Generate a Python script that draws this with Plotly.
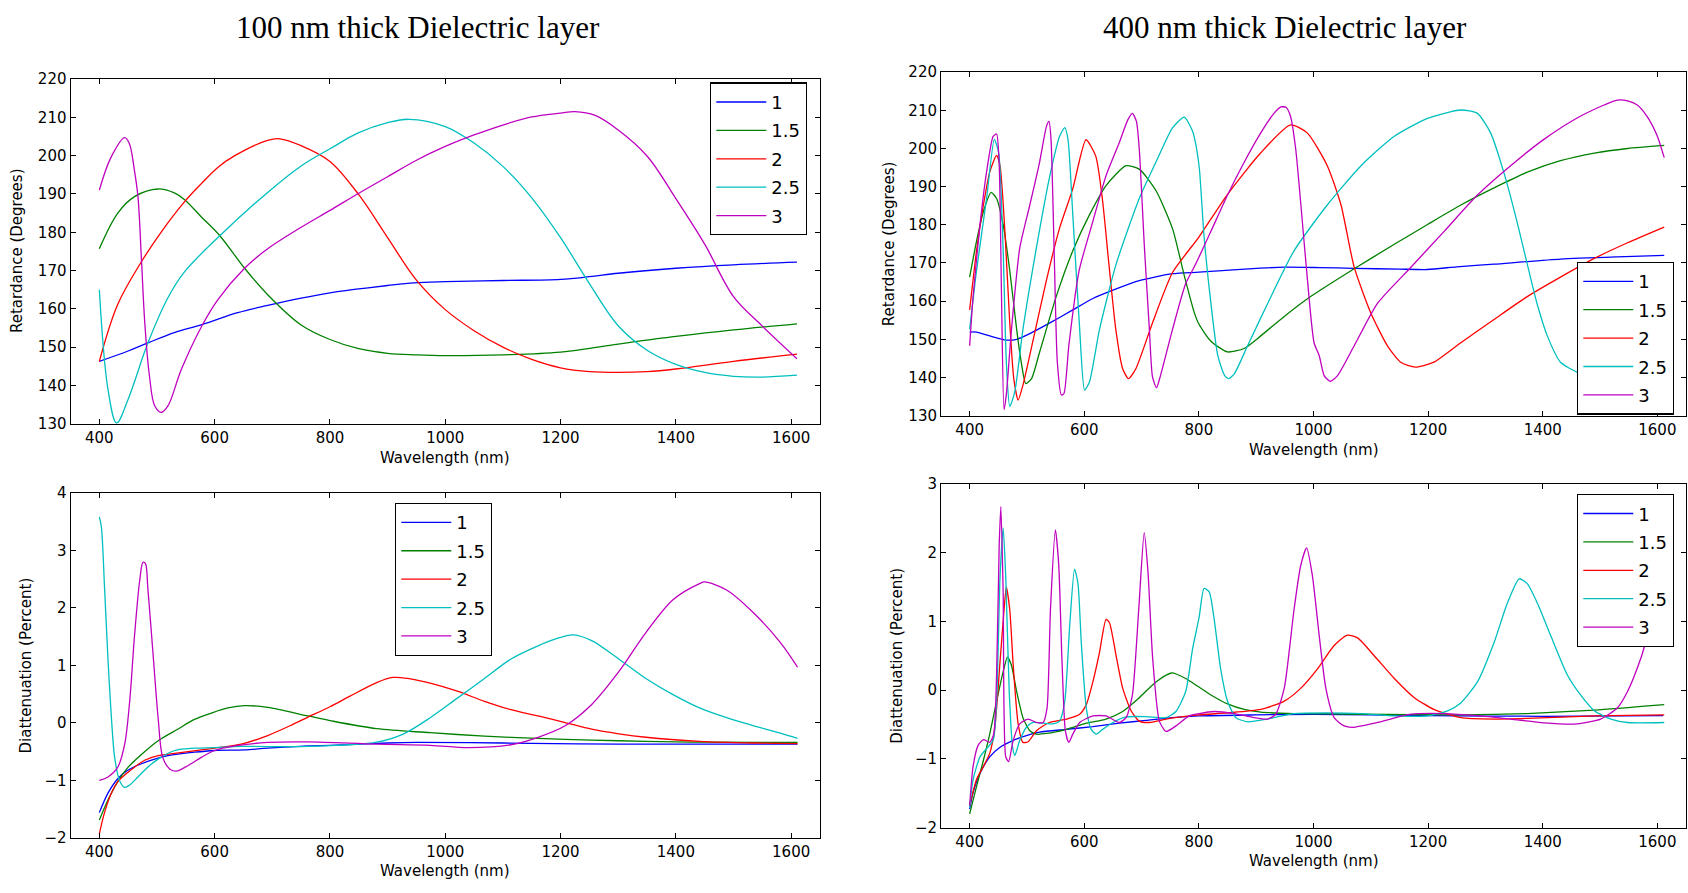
import plotly.graph_objects as go

# ---------------- data ----------------
SERIES_NAMES = ["1", "1.5", "2", "2.5", "3"]
X_TICKS = [400, 600, 800, 1000, 1200, 1400, 1600]
RET_TICKS = [130, 140, 150, 160, 170, 180, 190, 200, 210, 220]
DIA_TICKS_100 = [-2, -1, 0, 1, 2, 3, 4]
DIA_TICKS_400 = [-2, -1, 0, 1, 2, 3]

# --- 100 nm, retardance ---
TL_1_X = [400, 450, 484, 530, 578, 640, 692, 750, 800, 850, 900, 946, 1000, 1100, 1200, 1250, 1300, 1400, 1500, 1610]
TL_1_Y = [146.3, 149.0, 151.1, 153.8, 155.9, 159.0, 160.9, 162.8, 164.2, 165.2, 166.1, 166.8, 167.1, 167.4, 167.7, 168.4, 169.3, 170.6, 171.5, 172.2]
TL_15_X = [400, 432, 461, 502, 531, 548, 577, 609, 652, 692, 750, 800, 850, 900, 950, 1000, 1100, 1200, 1300, 1400, 1500, 1610]
TL_15_Y = [175.7, 185.0, 189.3, 191.3, 190.2, 188.5, 184.0, 179.1, 170.6, 163.7, 155.8, 152.0, 149.6, 148.4, 148.0, 147.8, 148.0, 148.7, 150.8, 152.8, 154.5, 156.1]
TL_2_X = [400, 432, 473, 507, 548, 577, 606, 635, 692, 713, 750, 800, 850, 900, 950, 1000, 1050, 1100, 1150, 1200, 1250, 1300, 1350, 1400, 1500, 1610]
TL_2_Y = [146.3, 161.2, 172.3, 180.0, 188.0, 192.7, 197.0, 200.0, 204.0, 204.4, 202.6, 198.5, 189.8, 178.6, 167.5, 159.8, 154.3, 150.0, 146.8, 144.6, 143.6, 143.4, 143.6, 144.3, 146.3, 148.2]
TL_25_X = [400, 415, 430, 450, 484, 519, 548, 609, 692, 750, 800, 850, 900, 937, 1000, 1050, 1100, 1150, 1200, 1250, 1300, 1350, 1400, 1450, 1500, 1550, 1610]
TL_25_Y = [165.0, 139.0, 130.2, 136.4, 151.0, 162.9, 169.7, 179.1, 190.4, 197.3, 201.8, 206.0, 208.6, 209.5, 207.6, 203.3, 197.2, 189.0, 178.6, 166.6, 155.6, 149.2, 145.5, 143.4, 142.4, 142.2, 142.7]
TL_3_X = [400, 420, 444, 452, 461, 467, 473, 479, 487, 496, 507, 519, 542, 578, 606, 652, 692, 750, 800, 850, 900, 950, 1000, 1050, 1100, 1150, 1200, 1225, 1260, 1300, 1350, 1400, 1450, 1500, 1550, 1610]
TL_3_Y = [191.0, 199.5, 204.7, 203.2, 196.0, 189.3, 173.1, 156.0, 142.4, 134.7, 133.0, 134.7, 144.1, 155.6, 162.5, 170.6, 175.7, 181.3, 185.7, 190.2, 194.5, 198.8, 202.4, 205.4, 208.0, 210.1, 211.1, 211.5, 210.5, 206.7, 199.9, 188.8, 176.9, 163.2, 155.5, 147.0]

# --- 400 nm, retardance ---
TR_1_X = [400, 412, 435, 464, 482, 505, 540, 580, 615, 650, 696, 754, 800, 880, 949, 1010, 1071, 1150, 1199, 1250, 1315, 1431, 1530, 1612]
TR_1_Y = [151.9, 151.9, 150.9, 149.8, 150.0, 151.5, 154.3, 157.7, 160.7, 162.9, 165.4, 167.2, 167.6, 168.4, 168.9, 168.8, 168.6, 168.4, 168.3, 169.0, 169.7, 171.0, 171.6, 172.0]
TR_15_X = [400, 412, 424, 437.5, 447, 458.5, 470, 482, 490, 498, 508, 522, 551, 580, 609, 638, 673, 696, 725, 754, 774, 792, 800, 821, 850, 879, 908, 949, 995, 1071, 1141, 1199, 1257, 1315, 1373, 1431, 1490, 1548, 1612]
TR_15_Y = [166.3, 175.7, 183.5, 188.5, 186.9, 180.0, 168.0, 152.6, 144.0, 138.4, 139.7, 146.6, 161.2, 173.2, 182.6, 190.3, 195.5, 194.6, 189.0, 179.0, 167.0, 157.0, 154.0, 149.5, 146.7, 147.6, 150.9, 156.0, 161.2, 168.5, 174.9, 180.1, 185.2, 189.7, 193.8, 196.8, 198.8, 200.0, 200.8]
TR_2_X = [400, 412, 424, 435, 447, 453, 461.5, 470, 477, 484.6, 493, 511, 534, 557, 580, 603, 620, 631.5, 643, 655, 667, 677, 690, 719, 754, 800, 850, 908, 960, 989, 1024, 1048, 1071, 1100, 1129, 1152, 1178, 1210, 1257, 1315, 1373, 1431, 1490, 1548, 1612]
TR_2_Y = [157.7, 173.2, 185.2, 193.8, 198.2, 195.5, 178.3, 154.3, 139.7, 134.1, 138.0, 150.0, 165.5, 179.2, 189.5, 202.3, 198.0, 186.9, 169.7, 152.6, 142.3, 139.7, 142.3, 154.3, 167.5, 176.8, 188.0, 198.9, 206.2, 204.1, 195.5, 185.2, 168.9, 156.9, 148.3, 144.0, 142.7, 144.0, 149.1, 155.2, 161.2, 166.3, 171.2, 175.3, 179.4]
TR_25_X = [400, 412, 429.5, 443, 450.6, 458.5, 464, 470, 478.8, 493, 516.5, 540, 557, 566, 571.6, 580, 592, 600.6, 609, 626.6, 655.6, 696, 725, 754, 774.5, 789, 796, 801, 809, 821, 833, 845, 852, 862, 885, 920, 966, 1024, 1083, 1141, 1199, 1257, 1286, 1309, 1332, 1355, 1373, 1390, 1408, 1431, 1460, 1490, 1550, 1610]
TR_25_Y = [152.6, 168.0, 186.9, 202.4, 198.9, 173.2, 144.0, 132.4, 136.3, 152.6, 174.0, 192.9, 203.2, 205.5, 202.4, 182.6, 152.6, 136.7, 138.8, 152.6, 169.7, 186.9, 196.4, 205.4, 208.2, 204.5, 200.0, 194.5, 177.0, 159.4, 145.7, 140.5, 139.7, 141.0, 148.3, 159.4, 173.2, 185.2, 195.5, 203.2, 207.9, 210.1, 209.2, 204.1, 193.8, 180.9, 169.7, 159.4, 150.9, 144.0, 141.4, 140.5, 143.5, 149.0]
TR_3_X = [400, 406, 418, 429.5, 441, 447, 451.6, 455.6, 460, 464, 473, 487.5, 505, 522, 534, 538.5, 542, 548, 553, 560, 564.6, 573, 591, 615, 638, 661, 676, 684, 691, 696, 705, 713.6, 719, 726, 733, 754, 777, 792, 800, 821, 850, 879, 908, 931, 943, 952, 960, 969, 978, 989.5, 1001, 1010, 1018.6, 1029, 1042, 1071, 1111.6, 1170, 1228, 1286, 1344, 1402, 1460, 1507, 1530, 1548, 1565, 1582, 1600, 1612]
TR_3_Y = [148.3, 161.2, 180.0, 193.8, 203.2, 203.8, 195.5, 161.2, 131.6, 135.5, 152.6, 174.0, 185.2, 196.4, 205.8, 207.1, 202.4, 169.7, 144.0, 135.4, 135.8, 148.3, 168.0, 180.9, 192.9, 201.5, 207.5, 209.2, 207.1, 199.8, 174.0, 152.6, 140.2, 137.3, 140.5, 152.6, 164.6, 169.0, 171.5, 178.3, 187.8, 196.4, 204.1, 209.2, 210.9, 210.8, 208.4, 199.8, 185.2, 165.5, 149.1, 145.7, 140.5, 139.0, 140.5, 148.3, 159.4, 168.9, 178.3, 187.8, 195.5, 202.4, 208.0, 211.4, 212.7, 212.5, 211.4, 208.4, 203.2, 197.6]

# --- 100 nm, diattenuation ---
BL_1_X = [400, 415, 432, 450, 473, 496, 519, 565, 600, 652, 692, 762, 800, 900, 950, 1100, 1300, 1611]
BL_1_Y = [-1.56, -1.22, -0.97, -0.82, -0.71, -0.63, -0.57, -0.51, -0.48, -0.47, -0.44, -0.40, -0.39, -0.35, -0.34, -0.35, -0.37, -0.37]
BL_15_X = [400, 415, 432, 450, 473, 502, 536, 565, 594, 623, 652, 692, 762, 800, 881, 974, 1068, 1161, 1254, 1348, 1441, 1611]
BL_15_Y = [-1.69, -1.34, -1.02, -0.77, -0.55, -0.31, -0.11, 0.06, 0.17, 0.26, 0.30, 0.27, 0.12, 0.04, -0.10, -0.17, -0.23, -0.27, -0.30, -0.32, -0.335, -0.34]
BL_2_X = [400, 409, 421, 432, 447, 461, 478.6, 502, 530.6, 577, 606, 646, 692, 735, 762, 800, 834, 881, 909, 937, 974, 1021, 1068, 1114, 1161, 1208, 1254, 1301, 1348, 1441, 1535, 1611]
BL_2_Y = [-1.93, -1.56, -1.22, -1.02, -0.88, -0.77, -0.65, -0.57, -0.53, -0.47, -0.43, -0.37, -0.22, -0.03, 0.10, 0.28, 0.46, 0.70, 0.79, 0.77, 0.69, 0.55, 0.375, 0.23, 0.12, 0.006, -0.11, -0.19, -0.25, -0.32, -0.35, -0.36]
BL_25_X = [400, 403.5, 409, 415, 421, 426.6, 435, 444, 452.6, 467, 484, 502, 530.6, 565, 600, 646, 762, 881, 928, 974, 1021, 1068, 1114, 1161, 1198, 1222, 1254, 1301, 1348, 1395, 1441, 1488, 1535, 1581, 1611]
BL_25_Y = [3.58, 3.41, 2.36, 1.11, 0.085, -0.60, -1.00, -1.12, -1.08, -0.94, -0.77, -0.63, -0.48, -0.44, -0.43, -0.41, -0.41, -0.335, -0.19, 0.09, 0.43, 0.77, 1.11, 1.34, 1.48, 1.53, 1.43, 1.11, 0.77, 0.49, 0.26, 0.09, -0.05, -0.18, -0.27]
BL_3_X = [400, 415, 432, 444, 452.6, 461, 470, 475.7, 480, 484, 493, 502, 510, 522, 533.5, 554, 577, 600, 635, 692, 762, 881, 974, 1040, 1114, 1161, 1208, 1254, 1301, 1348, 1395, 1441, 1450, 1488, 1535, 1581, 1611]
BL_3_Y = [-1.00, -0.94, -0.77, -0.37, 0.37, 1.51, 2.47, 2.79, 2.77, 2.36, 1.22, 0.085, -0.60, -0.80, -0.84, -0.74, -0.60, -0.48, -0.40, -0.34, -0.33, -0.37, -0.39, -0.43, -0.38, -0.25, -0.05, 0.32, 0.89, 1.57, 2.14, 2.42, 2.45, 2.31, 1.91, 1.40, 0.97]

# --- 400 nm, diattenuation ---
BR_1_X = [400, 406, 418, 435, 453, 476, 499, 522, 569, 615, 661, 708, 754, 800, 900, 1000, 1100, 1200, 1400, 1610]
BR_1_Y = [-1.73, -1.49, -1.21, -0.97, -0.83, -0.73, -0.66, -0.61, -0.57, -0.53, -0.48, -0.44, -0.40, -0.375, -0.36, -0.35, -0.36, -0.37, -0.38, -0.37]
BR_15_X = [400, 412, 424, 435, 447, 458.5, 466, 473, 482, 493, 505, 516.5, 534, 569, 603.5, 638, 667, 696, 725, 752.5, 777, 792, 821, 850, 879, 908, 966, 1083, 1257, 1373, 1490, 1612]
BR_15_Y = [-1.80, -1.40, -1.02, -0.64, -0.16, 0.27, 0.48, 0.36, -0.02, -0.40, -0.59, -0.64, -0.63, -0.57, -0.48, -0.42, -0.31, -0.11, 0.12, 0.25, 0.17, 0.09, -0.07, -0.20, -0.28, -0.32, -0.34, -0.35, -0.36, -0.34, -0.29, -0.21]
BR_2_X = [400, 412, 424, 435, 444, 453, 460, 464, 470, 476, 484.6, 493, 502, 516.5, 539, 569, 592, 603.5, 615, 626.6, 638, 644, 655.6, 667, 681.7, 696, 713.6, 742.6, 800, 850, 908, 949, 978, 1007, 1036, 1059, 1077, 1106, 1141, 1176, 1210, 1257, 1315, 1373, 1490, 1612]
BR_2_Y = [-1.68, -1.30, -1.11, -0.92, -0.54, 0.41, 1.17, 1.50, 1.17, 0.36, -0.49, -0.76, -0.75, -0.59, -0.47, -0.42, -0.35, -0.21, 0.12, 0.55, 1.03, 0.98, 0.50, 0.03, -0.30, -0.45, -0.47, -0.42, -0.36, -0.33, -0.28, -0.16, 0.03, 0.31, 0.65, 0.80, 0.76, 0.50, 0.17, -0.11, -0.28, -0.40, -0.42, -0.41, -0.375, -0.36]
BR_25_X = [400, 406, 418, 429.5, 441, 447, 453, 458.5, 463, 469, 475, 478.8, 487.5, 499, 510.7, 528, 545.5, 557, 566, 574.5, 583, 589, 594.8, 603.5, 612, 621, 632, 650, 673, 708, 742.6, 760, 777, 789, 800.6, 809, 818, 826.7, 838, 850, 864.5, 885, 920, 966, 1024, 1083, 1141, 1199, 1234, 1257, 1286, 1315, 1338, 1359, 1373, 1391, 1414, 1443, 1466, 1490, 1519, 1548, 1612]
BR_25_Y = [-1.71, -1.30, -0.97, -0.85, -0.73, -0.16, 1.64, 2.36, 1.64, -0.02, -0.83, -0.95, -0.73, -0.54, -0.47, -0.48, -0.49, -0.45, -0.16, 0.93, 1.76, 1.55, 0.69, -0.26, -0.57, -0.64, -0.57, -0.47, -0.39, -0.385, -0.40, -0.31, -0.02, 0.60, 1.07, 1.48, 1.43, 1.03, 0.31, -0.16, -0.40, -0.46, -0.42, -0.34, -0.33, -0.34, -0.375, -0.375, -0.30, -0.185, 0.12, 0.69, 1.26, 1.62, 1.55, 1.26, 0.79, 0.22, -0.07, -0.30, -0.42, -0.47, -0.47]
BR_3_X = [400, 406, 415, 424, 435, 442, 447, 451.6, 454.5, 458.5, 463, 468, 476, 487.5, 502, 516.5, 528, 535, 541, 549.6, 555.4, 561, 567, 573, 580, 592, 615, 638, 661, 673, 684, 695, 704.6, 711, 719.4, 731, 742.6, 760, 783, 800.6, 826.7, 861.6, 896.5, 920, 934, 949, 966, 977.6, 988, 998, 1010, 1021.5, 1036, 1053.5, 1068, 1111.6, 1170, 1228, 1286, 1344, 1402, 1460, 1501, 1530, 1548, 1571, 1583, 1610]
BR_3_Y = [-1.68, -1.11, -0.80, -0.72, -0.76, -0.64, 0.22, 2.12, 2.67, 1.41, -0.97, -1.04, -0.73, -0.49, -0.42, -0.47, -0.47, -0.26, 1.17, 2.33, 1.83, 0.46, -0.59, -0.76, -0.64, -0.47, -0.375, -0.375, -0.47, -0.40, -0.07, 1.17, 2.29, 1.74, 0.46, -0.45, -0.60, -0.52, -0.375, -0.34, -0.31, -0.34, -0.40, -0.42, -0.35, 0.03, 1.17, 1.81, 2.07, 1.67, 0.79, 0.03, -0.40, -0.52, -0.54, -0.47, -0.35, -0.34, -0.37, -0.42, -0.475, -0.49, -0.42, -0.26, -0.02, 0.46, 0.79, 1.50]

# ---------------- styling / layout ----------------
W, H = 1688, 893
COLORS = ["#0000ff", "#008000", "#ff0000", "#00bfbf", "#bf00bf"]
SANS = "DejaVu Sans"
SERIF = "Liberation Serif"


def fx(p):
    return p / W


def fy(p):
    return 1 - p / H


panels = [
    dict(xa="x", ya="y", leg="legend", smooth=1.0,
         data=[(TL_1_X, TL_1_Y), (TL_15_X, TL_15_Y), (TL_2_X, TL_2_Y), (TL_25_X, TL_25_Y), (TL_3_X, TL_3_Y)]),
    dict(xa="x2", ya="y2", leg="legend2", smooth=0.6,
         data=[(TR_1_X, TR_1_Y), (TR_15_X, TR_15_Y), (TR_2_X, TR_2_Y), (TR_25_X, TR_25_Y), (TR_3_X, TR_3_Y)]),
    dict(xa="x3", ya="y3", leg="legend3", smooth=0.9,
         data=[(BL_1_X, BL_1_Y), (BL_15_X, BL_15_Y), (BL_2_X, BL_2_Y), (BL_25_X, BL_25_Y), (BL_3_X, BL_3_Y)]),
    dict(xa="x4", ya="y4", leg="legend4", smooth=0.6,
         data=[(BR_1_X, BR_1_Y), (BR_15_X, BR_15_Y), (BR_2_X, BR_2_Y), (BR_25_X, BR_25_Y), (BR_3_X, BR_3_Y)]),
]

fig = go.Figure()
for p in panels:
    for i, (xs, ys) in enumerate(p["data"]):
        fig.add_trace(go.Scatter(
            x=xs, y=ys, mode="lines", name=SERIES_NAMES[i],
            line=dict(color=COLORS[i], width=1.3, shape="spline", smoothing=p["smooth"]),
            xaxis=p["xa"], yaxis=p["ya"], legend=p["leg"],
            legendgroup=p["leg"] + "_" + str(i),
        ))


def xaxis(dom, anchor):
    return dict(domain=dom, anchor=anchor, range=[350, 1650], tickvals=X_TICKS,
                ticks="inside", ticklen=5, tickcolor="black", showline=True,
                linecolor="black", linewidth=1, mirror="ticks", showgrid=False,
                zeroline=False, tickfont=dict(family=SANS, size=15, color="black"))


def yaxis(dom, anchor, rng, tv):
    return dict(domain=dom, anchor=anchor, range=rng, tickvals=tv,
                ticks="inside", ticklen=5, tickcolor="black", showline=True,
                linecolor="black", linewidth=1, mirror="ticks", showgrid=False,
                zeroline=False, tickfont=dict(family=SANS, size=15, color="black"))


L_DOM = [fx(70.5), fx(820)]
R_DOM = [fx(941), fx(1686)]


def legend(xp, yp):
    return dict(x=fx(xp), y=fy(yp), xanchor="left", yanchor="top",
                bgcolor="white", bordercolor="black", borderwidth=1.3,
                font=dict(family=SANS, size=18, color="black"),
                tracegroupgap=2, itemwidth=50)


def ann(text, xp, yp, size=15, angle=0, family=SANS):
    return dict(text=text, x=fx(xp), y=fy(yp), xref="paper", yref="paper",
                showarrow=False, textangle=angle, xanchor="center", yanchor="middle",
                font=dict(family=family, size=size, color="black"))


fig.update_layout(
    width=W, height=H, margin=dict(l=0, r=0, t=0, b=0),
    paper_bgcolor="white", plot_bgcolor="white",
    xaxis=xaxis(L_DOM, "y"),
    yaxis=yaxis([fy(423.3), fy(71.5)], "x", [130, 220], RET_TICKS),
    xaxis2=xaxis(R_DOM, "y2"),
    yaxis2=yaxis([fy(415), fy(64.5)], "x2", [130, 220], RET_TICKS),
    xaxis3=xaxis(L_DOM, "y3"),
    yaxis3=yaxis([fy(846), fy(493.7)], "x3", [-2, 4], DIA_TICKS_100),
    xaxis4=xaxis(R_DOM, "y4"),
    yaxis4=yaxis([fy(835.5), fy(484.7)], "x4", [-2, 3], DIA_TICKS_400),
    legend=legend(710, 75),
    legend2=legend(1577, 258),
    legend3=legend(395, 504),
    legend4=legend(1577, 495),
    annotations=[
        ann("100 nm thick Dielectric layer", 418, 18.5, size=31, family=SERIF),
        ann("400 nm thick Dielectric layer", 1285, 18.5, size=31, family=SERIF),
        ann("Wavelength (nm)", 445, 458),
        ann("Wavelength (nm)", 1314, 450),
        ann("Wavelength (nm)", 445, 880),
        ann("Wavelength (nm)", 1314, 870),
        ann("Retardance (Degrees)", 17, 247, angle=-90),
        ann("Retardance (Degrees)", 889, 240, angle=-90),
        ann("Diattenuation (Percent)", 26, 670, angle=-90),
        ann("Diattenuation (Percent)", 897, 660, angle=-90),
    ],
    showlegend=True,
)

fig.write_html("out.html")
